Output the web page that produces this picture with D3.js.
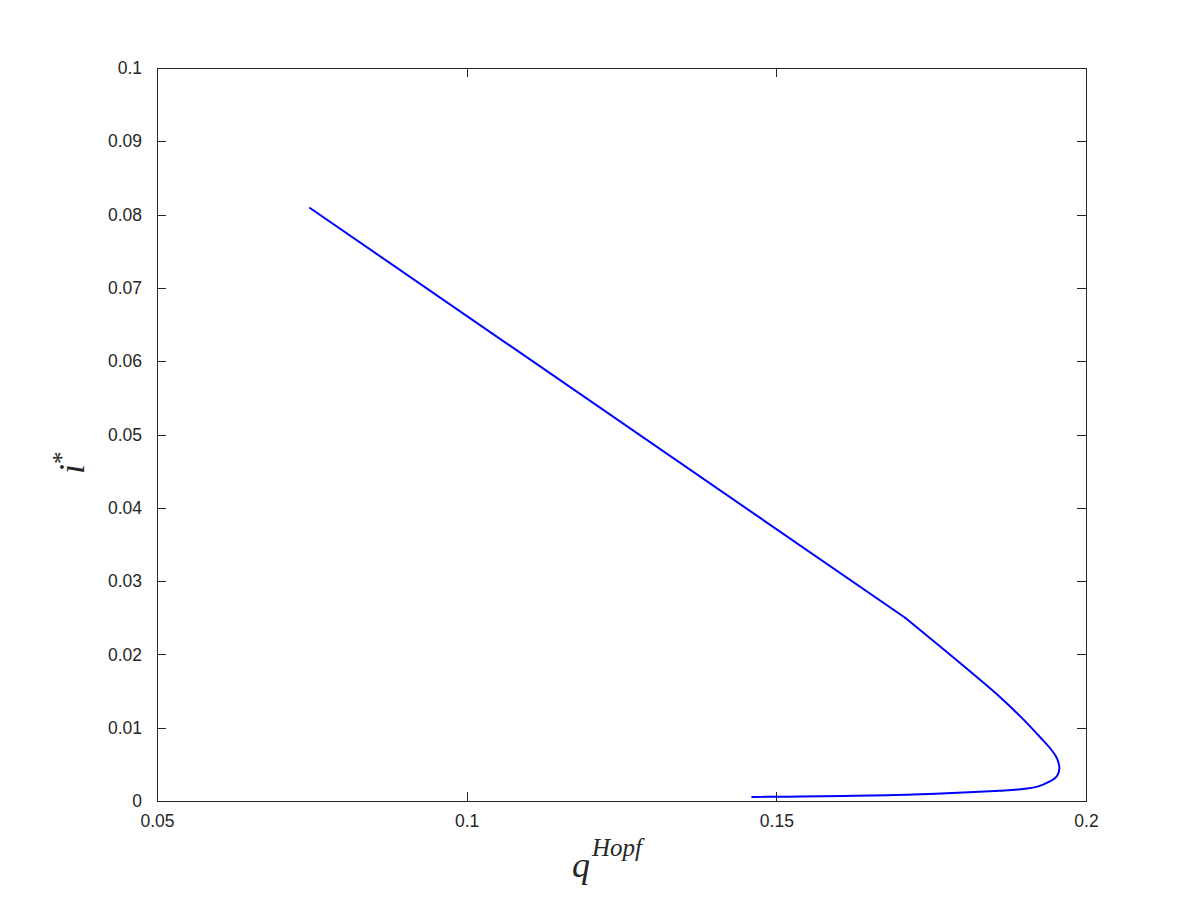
<!DOCTYPE html>
<html>
<head>
<meta charset="utf-8">
<script src="https://cdn.jsdelivr.net/npm/d3@7"></script>
<style>
  html, body { margin: 0; padding: 0; background: #fff; }
  svg { display: block; }
</style>
</head>
<body>
<svg id="chart" width="1200" height="900"></svg>
<script>
// Data
const qHopf = [0.0747, 0.1708, 0.1861, 0.1898, 0.1926, 0.1942, 0.1952, 0.19565, 0.19565, 0.1952, 0.1940, 0.1923, 0.1894, 0.1861, 0.1721, 0.1461];
const iStar = [0.0809, 0.0250, 0.0142, 0.0112, 0.0087, 0.0072, 0.0060, 0.0049, 0.0041, 0.0033, 0.0026, 0.0020, 0.0016, 0.0014, 0.0009, 0.00055];
const xTicks = [0.05, 0.1, 0.15, 0.2];
const yTicks = [0, 0.01, 0.02, 0.03, 0.04, 0.05, 0.06, 0.07, 0.08, 0.09, 0.1];
const xDomain = [0.05, 0.2];
const yDomain = [0, 0.1];

const svg = d3.select("#chart");
const m = { left: 157, right: 1086, top: 68, bottom: 801 };
const x = d3.scaleLinear().domain(xDomain).range([m.left, m.right]);
const y = d3.scaleLinear().domain(yDomain).range([m.bottom, m.top]);
const axisColor = "#262626";
const tickLen = 9;
const fmt = d => (d === 0 ? "0" : String(+d.toFixed(3)));

// Frame
svg.append("rect")
  .attr("x", m.left).attr("y", m.top)
  .attr("width", m.right - m.left).attr("height", m.bottom - m.top)
  .attr("fill", "none").attr("stroke", axisColor).attr("stroke-width", 1)
  .attr("shape-rendering", "crispEdges");

function styleAxis(g) {
  g.select(".domain").remove();
  g.selectAll(".tick line").attr("stroke", axisColor).attr("shape-rendering", "crispEdges");
  g.selectAll(".tick text").attr("fill", axisColor)
    .style("font-family", "'Liberation Sans', Arial, Helvetica, sans-serif")
    .style("font-size", "17.5px");
}

// Bottom axis (ticks inside)
svg.append("g").attr("transform", `translate(0,${m.bottom})`)
  .call(d3.axisBottom(x).tickValues(xTicks).tickFormat(fmt).tickSizeInner(-tickLen).tickSizeOuter(0).tickPadding(14))
  .call(styleAxis);
// Top axis ticks
svg.append("g").attr("transform", `translate(0,${m.top})`)
  .call(d3.axisTop(x).tickValues(xTicks).tickFormat("").tickSizeInner(-tickLen).tickSizeOuter(0))
  .call(styleAxis);
// Left axis
svg.append("g").attr("transform", `translate(${m.left},0)`)
  .call(d3.axisLeft(y).tickValues(yTicks).tickFormat(fmt).tickSizeInner(-tickLen).tickSizeOuter(0).tickPadding(15))
  .call(styleAxis);
// Right axis ticks
svg.append("g").attr("transform", `translate(${m.right},0)`)
  .call(d3.axisRight(y).tickValues(yTicks).tickFormat("").tickSizeInner(-tickLen).tickSizeOuter(0))
  .call(styleAxis);

// Curve: straight upper segment, smooth turn
const pts = qHopf.map((q, k) => [q, iStar[k]]);
const straight = d3.line().x(d => x(d[0])).y(d => y(d[1]));
const smooth = d3.line().x(d => x(d[0])).y(d => y(d[1])).curve(d3.curveCatmullRom.alpha(0.5));
svg.append("path")
  .attr("d", straight(pts.slice(0, 2)))
  .attr("fill", "none").attr("stroke", "#0000ff").attr("stroke-width", 2)
  .attr("stroke-linecap", "round");
svg.append("path")
  .attr("d", smooth(pts.slice(1)))
  .attr("fill", "none").attr("stroke", "#0000ff").attr("stroke-width", 2)
  .attr("stroke-linejoin", "round").attr("stroke-linecap", "round");

// X label: q^{Hopf}
const serif = "'Liberation Serif', 'Times New Roman', serif";
const xl = svg.append("text")
  .attr("x", 572).attr("y", 877)
  .attr("fill", axisColor)
  .style("font-family", serif).style("font-style", "italic");
xl.append("tspan").style("font-size", "36px").text("q");
xl.append("tspan").attr("dy", -21).attr("dx", 2).style("font-size", "25px").text("Hopf");

// Y label: i^*
const yl = svg.append("text")
  .attr("transform", "translate(84,474) rotate(-90)")
  .attr("fill", axisColor)
  .style("font-family", serif).style("font-style", "italic");
yl.append("tspan").style("font-size", "36px").text("i");
yl.append("tspan").attr("dy", -14).style("font-size", "25px").style("font-style", "normal").text("*");
</script>
</body>
</html>
